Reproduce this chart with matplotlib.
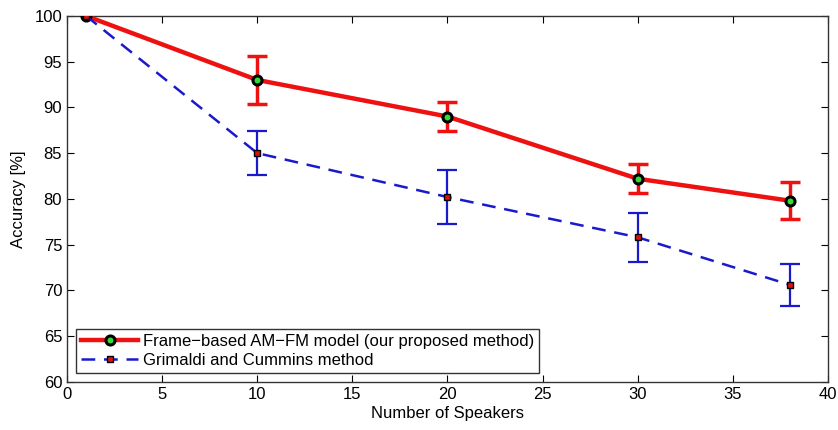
import matplotlib
matplotlib.use("Agg")
import matplotlib.pyplot as plt

# number of speakers
speakers = [1, 10, 20, 30, 38]

# frame-based AM-FM model
amfm_acc = [100, 93.0, 89.0, 82.2, 79.8]
amfm_err = [0, 2.6, 1.6, 1.6, 2.0]

# Grimaldi and Cummins
gc_acc = [100, 85.0, 80.2, 75.8, 70.6]
gc_err = [0, 2.4, 3.0, 2.7, 2.3]

xticks = [0, 5, 10, 15, 20, 25, 30, 35, 40]
yticks = [60, 65, 70, 75, 80, 85, 90, 95, 100]

plt.rcParams['font.family'] = ['Liberation Sans', 'DejaVu Sans']

fig = plt.figure(figsize=(8.38, 4.30), dpi=100)
ax = fig.add_axes([0.080, 0.112, 0.908, 0.851])

# error bars only where there is spread
ax.errorbar(speakers[1:], amfm_acc[1:], yerr=amfm_err[1:], fmt='none',
            ecolor='#ee1111', elinewidth=2.5, capsize=7, capthick=2.5, zorder=2)
ax.errorbar(speakers[1:], gc_acc[1:], yerr=gc_err[1:], fmt='none',
            ecolor='#1a1acc', elinewidth=1.6, capsize=7, capthick=1.6, zorder=2)

ax.plot(speakers, amfm_acc, '-', color='#ee1111', lw=3.2, marker='o',
        markersize=6.5, markerfacecolor='#33dd33', markeredgecolor='black',
        markeredgewidth=2.2, zorder=3,
        label='Frame\u2212based AM\u2212FM model (our proposed method)')
ax.plot(speakers, gc_acc, '--', color='#1a1acc', lw=1.8, dashes=(5.5, 3.5),
        marker='s', markersize=5, markerfacecolor='#dd1111',
        markeredgecolor='black', markeredgewidth=1, zorder=4,
        label='Grimaldi and Cummins method')

ax.set_xlim(0, 40)
ax.set_ylim(60, 100)
ax.set_xticks(xticks)
ax.set_yticks(yticks)
ax.tick_params(direction='in', top=True, right=True, labelsize=12, length=5)
for s in ax.spines.values():
    s.set_linewidth(1)
    s.set_color('#333333')

ax.set_xlabel('Number of Speakers', fontsize=12, labelpad=3)
ax.set_ylabel('Accuracy [%]', fontsize=12, labelpad=6)

leg = ax.legend(loc='lower left', fontsize=12, frameon=True, fancybox=False,
                edgecolor='black', borderaxespad=0.55, handlelength=3.4,
                labelspacing=0.25, borderpad=0.3, handletextpad=0.3)
leg.get_frame().set_linewidth(1)

fig.savefig('out.png', dpi=100)
